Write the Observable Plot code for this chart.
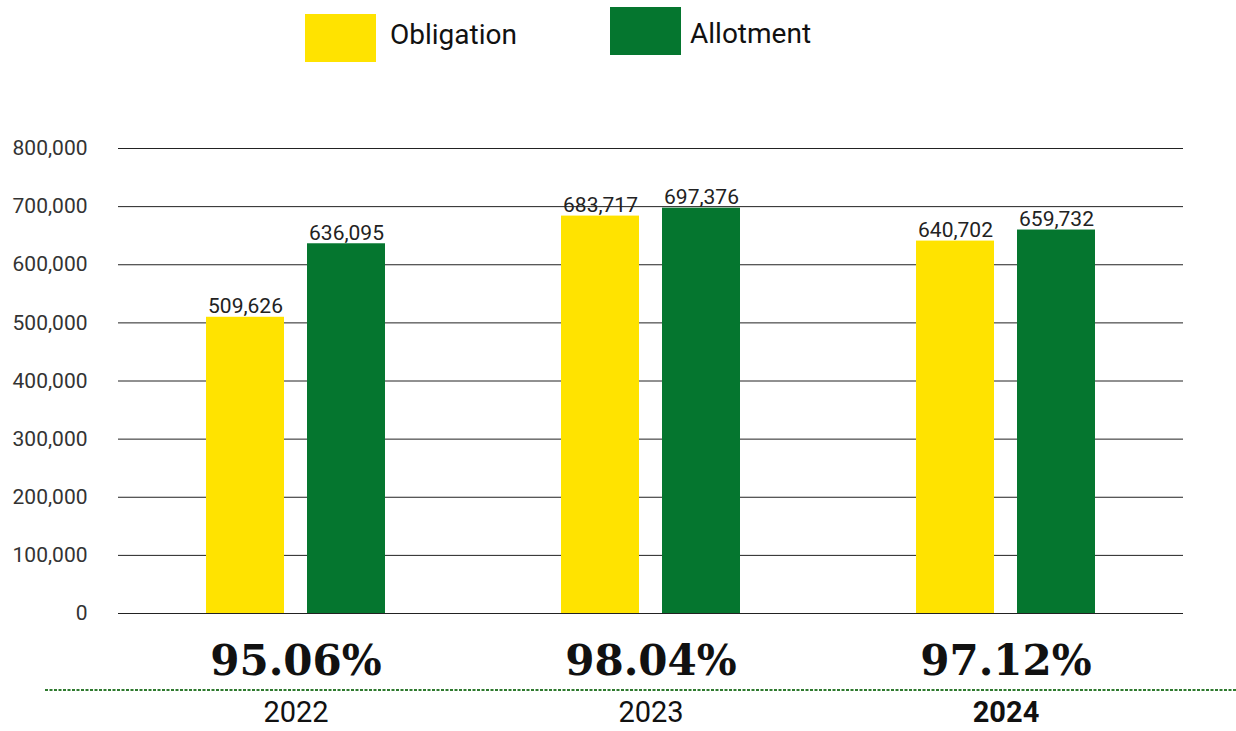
<!DOCTYPE html>
<html><head><meta charset="utf-8">
<script src="https://cdn.jsdelivr.net/npm/d3@7"></script>
<script src="https://cdn.jsdelivr.net/npm/@observablehq/plot@0.6"></script>
<style>
body{margin:0;background:#fff;font-family:Roboto,sans-serif;}
#wrap{position:relative;width:1236px;height:731px;overflow:hidden;}
#wrap svg{position:absolute;left:0;top:0;}
.sw{position:absolute;width:71px;height:48px;}
.lt{position:absolute;font-size:28px;color:#111;line-height:1;}
</style></head><body>
<div id="wrap">
  <div class="sw" style="left:305px;top:14px;background:#FFE300"></div>
  <div class="lt" style="left:390px;top:21px">Obligation</div>
  <div class="sw" style="left:610px;top:7px;background:#05762F"></div>
  <div class="lt" style="left:690px;top:20px">Allotment</div>
</div>
<script>
const years = ["2022", "2023", "2024"];
const seriesNames = ["Obligation", "Allotment"];
const obligation = [509626, 683717, 640702];
const allotment = [636095, 697376, 659732];
const utilization = ["95.06%", "98.04%", "97.12%"];
const yTicks = [0, 100000, 200000, 300000, 400000, 500000, 600000, 700000, 800000];
const colors = ["#FFE300", "#05762F"];

const rows = years.flatMap((yr, i) => [
  {year: yr, series: seriesNames[0], value: obligation[i]},
  {year: yr, series: seriesNames[1], value: allotment[i]}
]);
const pctRows = years.map((yr, i) => ({year: yr, pct: utilization[i]}));
const fmt = d3.format(",");

const chart = Plot.plot({
  width: 1236,
  height: 731,
  marginTop: 148,
  marginBottom: 118,
  marginLeft: 117,
  marginRight: 52,
  style: {fontFamily: "Roboto, sans-serif", background: "transparent", overflow: "visible"},
  fx: {domain: years, padding: 0, axis: null, label: null},
  x: {domain: seriesNames, paddingInner: 0.225, paddingOuter: 0.857, axis: null, label: null},
  y: {domain: [0, 800000], axis: null, label: null},
  color: {domain: seriesNames, range: colors},
  marks: [
    Plot.ruleY(yTicks, {stroke: "#222", strokeWidth: 1}),
    Plot.axisY(yTicks, {tickSize: 0, tickPadding: 31, tickFormat: d => fmt(d), fontSize: 21, fill: "#333", label: null, facetAnchor: "left"}),
    Plot.barY(rows, {fx: "year", x: "series", y: "value", fill: "series"}),
    Plot.text(rows, {fx: "year", x: "series", y: "value", text: d => fmt(d.value), lineAnchor: "bottom", dy: -4, fontSize: 21, fill: "#222"}),
    Plot.text(pctRows, {fx: "year", text: "pct", frameAnchor: "bottom", dy: 61, fontSize: 42, fontFamily: "DejaVu Serif", fontWeight: "bold", fill: "#111"}),
    Plot.text(pctRows.filter(d => d.year !== "2024"), {fx: "year", text: "year", frameAnchor: "bottom", dy: 108, fontSize: 29, fill: "#111"}),
    Plot.text(pctRows.filter(d => d.year === "2024"), {fx: "year", text: "year", frameAnchor: "bottom", dy: 108, fontSize: 29, fontWeight: "bold", fill: "#111"})
  ]
});

d3.select(chart).append("line")
  .attr("x1", 45).attr("x2", 1236).attr("y1", 690).attr("y2", 690)
  .attr("stroke", "#2f7a2f").attr("stroke-width", 2).attr("stroke-dasharray", "3,1.5");

const wrap = document.getElementById("wrap");
wrap.insertBefore(chart, wrap.firstChild);
</script>
</body></html>
